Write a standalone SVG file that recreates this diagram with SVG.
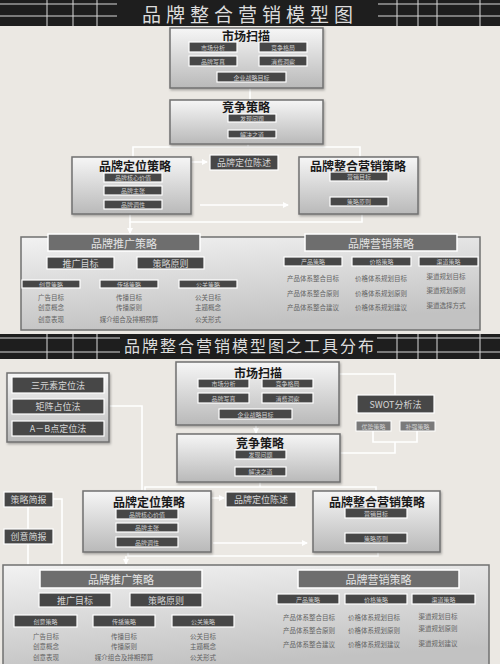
<svg xmlns="http://www.w3.org/2000/svg" width="500" height="664" viewBox="0 0 500 664">
<defs>
<linearGradient id="g" x1="0" y1="0" x2="0" y2="1">
<stop offset="0" stop-color="#f6f6f6"/><stop offset="1" stop-color="#b9b9b9"/>
</linearGradient>
<linearGradient id="gb" x1="0" y1="0" x2="0.3" y2="1">
<stop offset="0" stop-color="#f2f2f2"/><stop offset="1" stop-color="#c2c2c2"/>
</linearGradient>
<filter id="sh" x="-5%" y="-5%" width="110%" height="115%">
<feDropShadow dx="1" dy="1.5" stdDeviation="1" flood-color="#000" flood-opacity="0.3"/>
</filter>
<marker id="ar" markerWidth="6" markerHeight="6" refX="5" refY="3" orient="auto" markerUnits="userSpaceOnUse">
<path d="M0,0 L6,3 L0,6 z" fill="#ffffff"/>
</marker>
<style>
text{font-family:"Noto Sans CJK SC","Noto Sans",sans-serif;text-anchor:middle;dominant-baseline:central}
.bar{fill:#1e1e1e}
.grid{stroke:#d8d8d8;stroke-width:1}
.tt{fill:#dcdcdc}
.box{fill:url(#g);stroke:#707070;stroke-width:1.5;filter:url(#sh)}
.big{fill:url(#gb);stroke:#707070;stroke-width:1.5}
.sub{fill:#474747;stroke:#ffffff;stroke-width:1.2}
.st{fill:#cfcfcf;font-size:6px}
.ttl{fill:#1a1a1a;font-size:12px;font-weight:bold}
.hdr{fill:#6e6e6e;stroke:#ffffff;stroke-width:1.5}
.ht{fill:#e4e4e4;font-size:11px}
.mt{fill:#d6d6d6;font-size:9px}
.li{fill:#636363;font-size:6.5px}
.conn{stroke:#ffffff;stroke-width:1.6;fill:none}
.gry{fill:#7a7a7a;stroke:#ffffff;stroke-width:1}
</style>
</defs>
<rect width="500" height="664" fill="#ebe8e3"/>

<!-- ===== top title ===== -->
<g id="title1">
<rect class="bar" x="0" y="0" width="500" height="26"/>
<g class="grid">
<line x1="0" y1="4" x2="117" y2="4"/><line x1="0" y1="16" x2="117" y2="16"/>
<line x1="47" y1="0" x2="47" y2="26"/><line x1="73" y1="0" x2="73" y2="26"/><line x1="97" y1="0" x2="97" y2="26"/>
<line x1="378" y1="4" x2="500" y2="4"/><line x1="378" y1="16" x2="500" y2="16"/>
<line x1="397" y1="0" x2="397" y2="26"/><line x1="418" y1="0" x2="418" y2="26"/><line x1="437" y1="0" x2="437" y2="26"/><line x1="480" y1="0" x2="480" y2="26"/>
</g>
<text class="tt" x="250" y="13" font-size="19" letter-spacing="5">品牌整合营销模型图</text>
</g>

<!-- top connectors -->
<g id="connectors1">
<line class="conn" x1="250" y1="88" x2="250" y2="100"/>
<polyline class="conn" points="248,144 248,147"/>
<polyline class="conn" points="133,157 133,147 360,147 360,157"/>
<line class="conn" x1="173" y1="162" x2="207" y2="162" marker-end="url(#ar)"/>
<line class="conn" x1="200" y1="205" x2="288" y2="205" marker-end="url(#ar)"/>
<polyline class="conn" points="130,214 130,222 362,222 362,214"/>
<line class="conn" x1="130" y1="222" x2="130" y2="233" marker-end="url(#ar)"/>
</g>

<g id="scan1">
<rect class="box" x="170" y="28" width="153" height="60"/>
<text class="ttl" x="246" y="35">市场扫描</text>
<rect class="sub" x="189" y="42" width="48" height="10"/><text class="st" x="213" y="47">市场分析</text>
<rect class="sub" x="259" y="42" width="48" height="10"/><text class="st" x="283" y="47">竞争格局</text>
<rect class="sub" x="189" y="56" width="48" height="10"/><text class="st" x="213" y="61">品牌写真</text>
<rect class="sub" x="259" y="56" width="48" height="10"/><text class="st" x="283" y="61">消费洞察</text>
<rect class="sub" x="217" y="72" width="69" height="10"/><text class="st" x="251.5" y="77">企业战略目标</text>
</g>

<g id="comp1">
<rect class="box" x="170" y="100" width="153" height="44"/>
<text class="ttl" x="246" y="106">竞争策略</text>
<rect class="sub" x="228" y="114" width="48" height="8"/><text class="st" x="252" y="118">发现问题</text>
<rect class="sub" x="228" y="130" width="48" height="8"/><text class="st" x="252" y="134">解决之道</text>
</g>

<g id="pos1">
<rect class="box" x="72" y="157" width="119" height="57"/>
<text class="ttl" x="135" y="165">品牌定位策略</text>
<rect class="sub" x="104" y="173" width="58" height="9"/><text class="st" x="133" y="177.5">品牌核心价值</text>
<rect class="sub" x="104" y="186" width="58" height="9"/><text class="st" x="133" y="190.5">品牌主张</text>
<rect class="sub" x="104" y="200" width="58" height="9"/><text class="st" x="133" y="204.5">品牌调性</text>
</g>

<g id="stmt1">
<rect class="sub" x="210" y="155" width="68" height="15"/><text class="mt" x="244" y="162.5" font-size="8">品牌定位陈述</text>
</g>

<g id="imc1">
<rect class="box" x="299" y="157" width="119" height="57"/>
<text class="ttl" x="358" y="165">品牌整合营销策略</text>
<rect class="sub" x="330" y="172" width="58" height="9"/><text class="st" x="359" y="176.5">营销目标</text>
<rect class="sub" x="330" y="197" width="58" height="9"/><text class="st" x="359" y="201.5">策略原则</text>
</g>

<g id="bottom1">
<rect class="big" x="21" y="237" width="459" height="93"/>
<rect class="hdr" x="48" y="234" width="152" height="17"/><text class="ht" x="124" y="242.5">品牌推广策略</text>
<rect class="sub" x="47" y="257" width="67" height="12"/><text class="mt" x="80.5" y="263">推广目标</text>
<rect class="sub" x="137" y="257" width="67" height="12"/><text class="mt" x="170.5" y="263">策略原则</text>
<rect class="sub" x="22" y="280" width="58" height="8"/><text class="st" x="51" y="284">创意策略</text>
<rect class="sub" x="100" y="280" width="58" height="8"/><text class="st" x="129" y="284">传播策略</text>
<rect class="sub" x="179" y="280" width="58" height="8"/><text class="st" x="208" y="284">公关策略</text>
<text class="li" x="51" y="297">广告目标</text><text class="li" x="51" y="307">创意概念</text><text class="li" x="51" y="319">创意表现</text>
<text class="li" x="129" y="297">传播目标</text><text class="li" x="129" y="307">传播原则</text><text class="li" x="129" y="319">媒介组合及排期预算</text>
<text class="li" x="208" y="297">公关目标</text><text class="li" x="208" y="307">主题概念</text><text class="li" x="208" y="319">公关形式</text>
<rect class="hdr" x="305" y="234" width="152" height="17"/><text class="ht" x="381" y="242.5">品牌营销策略</text>
<rect class="sub" x="284" y="257" width="58" height="9"/><text class="st" x="313" y="261.5">产品策略</text>
<rect class="sub" x="352" y="257" width="59" height="9"/><text class="st" x="381.5" y="261.5">价格策略</text>
<rect class="sub" x="419" y="257" width="59" height="9"/><text class="st" x="448.5" y="261.5">渠道策略</text>
<text class="li" x="313" y="278">产品体系整合目标</text><text class="li" x="313" y="293">产品体系整合原则</text><text class="li" x="313" y="307">产品体系整合建议</text>
<text class="li" x="381" y="278">价格体系规划目标</text><text class="li" x="381" y="293">价格体系规划原则</text><text class="li" x="381" y="307">价格体系规划建议</text>
<text class="li" x="446" y="276">渠道规划目标</text><text class="li" x="446" y="290">渠道规划原则</text><text class="li" x="446" y="305">渠道选择方式</text>
</g>

<!-- ===== bottom title ===== -->
<g id="title2">
<rect class="bar" x="0" y="334" width="500" height="25"/>
<g class="grid">
<line x1="0" y1="338" x2="120" y2="338"/><line x1="0" y1="352" x2="120" y2="352"/>
<line x1="47" y1="334" x2="47" y2="359"/><line x1="73" y1="334" x2="73" y2="359"/><line x1="97" y1="334" x2="97" y2="359"/>
<line x1="377" y1="338" x2="500" y2="338"/><line x1="377" y1="352" x2="500" y2="352"/>
<line x1="397" y1="334" x2="397" y2="359"/><line x1="418" y1="334" x2="418" y2="359"/><line x1="437" y1="334" x2="437" y2="359"/><line x1="480" y1="334" x2="480" y2="359"/>
</g>
<text class="tt" x="250" y="345" font-size="16" letter-spacing="2">品牌整合营销模型图之工具分布</text>
</g>

<g id="connectors2">
<polyline class="conn" points="109,406 142,406 142,490"/>
<line class="conn" x1="256" y1="425" x2="256" y2="433" marker-end="url(#ar)"/>
<polyline class="conn" points="339,374 395,374 395,395"/>
<polyline class="conn" points="373,431 373,442 417,442 417,431"/>
<polyline class="conn" points="395,442 395,453 340,453"/>
<line class="conn" x1="260" y1="482" x2="260" y2="487"/>
<polyline class="conn" points="145,491 145,487 376,487 376,491"/>
<line class="conn" x1="211" y1="498" x2="224" y2="498" marker-end="url(#ar)"/>
<line class="conn" x1="213" y1="543" x2="307" y2="543" marker-end="url(#ar)"/>
<polyline class="conn" points="128,552 128,556 378,556 378,552"/>
<line class="conn" x1="126" y1="556" x2="126" y2="564" marker-end="url(#ar)"/>
<polyline class="conn" points="53,499 62,499 62,565"/>
<line class="conn" x1="28" y1="507" x2="28" y2="529"/>
<line class="conn" x1="28" y1="544" x2="28" y2="614" marker-end="url(#ar)"/>
</g>

<g id="tools">
<rect class="box" x="7" y="373" width="102" height="69"/>
<rect class="sub" x="12" y="377" width="92" height="16"/><text class="mt" x="58" y="385" font-size="10">三元素定位法</text>
<rect class="sub" x="12" y="399" width="92" height="15"/><text class="mt" x="58" y="406.5" font-size="10">矩阵占位法</text>
<rect class="sub" x="12" y="421" width="92" height="15"/><text class="mt" x="58" y="428.5" font-size="10">A－B点定位法</text>
</g>

<g id="scan2">
<rect class="box" x="176" y="362" width="163" height="63"/>
<text class="ttl" x="258" y="372">市场扫描</text>
<rect class="sub" x="198" y="379" width="51" height="9"/><text class="st" x="223.5" y="383.5">市场分析</text>
<rect class="sub" x="262" y="379" width="51" height="9"/><text class="st" x="287.5" y="383.5">竞争格局</text>
<rect class="sub" x="198" y="393" width="51" height="10"/><text class="st" x="223.5" y="398">品牌写真</text>
<rect class="sub" x="262" y="393" width="51" height="10"/><text class="st" x="287.5" y="398">消费洞察</text>
<rect class="sub" x="219" y="409" width="73" height="10"/><text class="st" x="255.5" y="414">企业战略目标</text>
</g>

<g id="swot">
<rect class="sub" x="357" y="395" width="77" height="18"/><text class="mt" x="395.5" y="404" font-size="11">SWOT分析法</text>
<rect class="gry" x="356" y="421" width="35" height="10"/><text class="st" x="373.5" y="426" font-size="5">优势策略</text>
<rect class="gry" x="400" y="421" width="35" height="10"/><text class="st" x="417.5" y="426" font-size="5">补强策略</text>
</g>

<g id="comp2">
<rect class="box" x="177" y="434" width="163" height="48"/>
<text class="ttl" x="260" y="442">竞争策略</text>
<rect class="sub" x="235" y="450" width="51" height="9"/><text class="st" x="260.5" y="454.5">发现问题</text>
<rect class="sub" x="235" y="467" width="51" height="9"/><text class="st" x="260.5" y="471.5">解决之道</text>
</g>

<g id="pos2">
<rect class="box" x="83" y="491" width="128" height="61"/>
<text class="ttl" x="149" y="501">品牌定位策略</text>
<rect class="sub" x="116" y="509" width="62" height="10"/><text class="st" x="147" y="514">品牌核心价值</text>
<rect class="sub" x="116" y="523" width="62" height="9"/><text class="st" x="147" y="527.5">品牌主张</text>
<rect class="sub" x="116" y="537" width="62" height="10"/><text class="st" x="147" y="542">品牌调性</text>
</g>

<g id="stmt2">
<rect class="sub" x="226" y="492" width="70" height="15"/><text class="mt" x="261" y="499.5" font-size="8">品牌定位陈述</text>
</g>

<g id="imc2">
<rect class="box" x="313" y="491" width="127" height="61"/>
<text class="ttl" x="377" y="501">品牌整合营销策略</text>
<rect class="sub" x="345" y="508" width="62" height="10"/><text class="st" x="376" y="513">营销目标</text>
<rect class="sub" x="345" y="533" width="62" height="10"/><text class="st" x="376" y="538">策略原则</text>
</g>

<g id="briefs">
<rect class="sub" x="4" y="492" width="49" height="15"/><text class="mt" x="28.5" y="499.5">策略简报</text>
<rect class="sub" x="4" y="529" width="49" height="15"/><text class="mt" x="28.5" y="536.5">创意简报</text>
</g>

<g id="bottom2">
<rect class="big" x="3" y="565" width="486" height="104"/>
<rect class="hdr" x="40" y="570" width="162" height="18"/><text class="ht" x="121" y="579" font-size="12">品牌推广策略</text>
<rect class="sub" x="39" y="593" width="72" height="14"/><text class="mt" x="75" y="600" font-size="9.5">推广目标</text>
<rect class="sub" x="130" y="593" width="72" height="14"/><text class="mt" x="166" y="600" font-size="9.5">策略原则</text>
<rect class="sub" x="14" y="615" width="63" height="12"/><text class="st" x="45.5" y="621" font-size="6.5">创意策略</text>
<rect class="sub" x="93" y="615" width="62" height="12"/><text class="st" x="124" y="621" font-size="6.5">传播策略</text>
<rect class="sub" x="172" y="615" width="62" height="12"/><text class="st" x="203" y="621" font-size="6.5">公关策略</text>
<text class="li" x="46" y="636">广告目标</text><text class="li" x="46" y="646">创意概念</text><text class="li" x="46" y="657">创意表现</text>
<text class="li" x="124" y="636">传播目标</text><text class="li" x="124" y="646">传播原则</text><text class="li" x="124" y="657">媒介组合及排期预算</text>
<text class="li" x="203" y="636">公关目标</text><text class="li" x="203" y="646">主题概念</text><text class="li" x="203" y="657">公关形式</text>
<rect class="hdr" x="298" y="570" width="161" height="18"/><text class="ht" x="378.5" y="579" font-size="12">品牌营销策略</text>
<rect class="sub" x="277" y="594" width="62" height="10"/><text class="st" x="308" y="599">产品策略</text>
<rect class="sub" x="345" y="594" width="62" height="10"/><text class="st" x="376" y="599">价格策略</text>
<rect class="sub" x="412" y="594" width="63" height="10"/><text class="st" x="443.5" y="599">渠道策略</text>
<text class="li" x="309" y="617">产品体系整合目标</text><text class="li" x="309" y="630">产品体系整合原则</text><text class="li" x="309" y="644">产品体系整合建议</text>
<text class="li" x="374" y="617">价格体系规划目标</text><text class="li" x="374" y="630">价格体系规划原则</text><text class="li" x="374" y="644">价格体系规划建议</text>
<text class="li" x="438" y="616">渠道规划目标</text><text class="li" x="438" y="628">渠道规划原则</text><text class="li" x="438" y="643">渠道规划建议</text>
</g>
</svg>
